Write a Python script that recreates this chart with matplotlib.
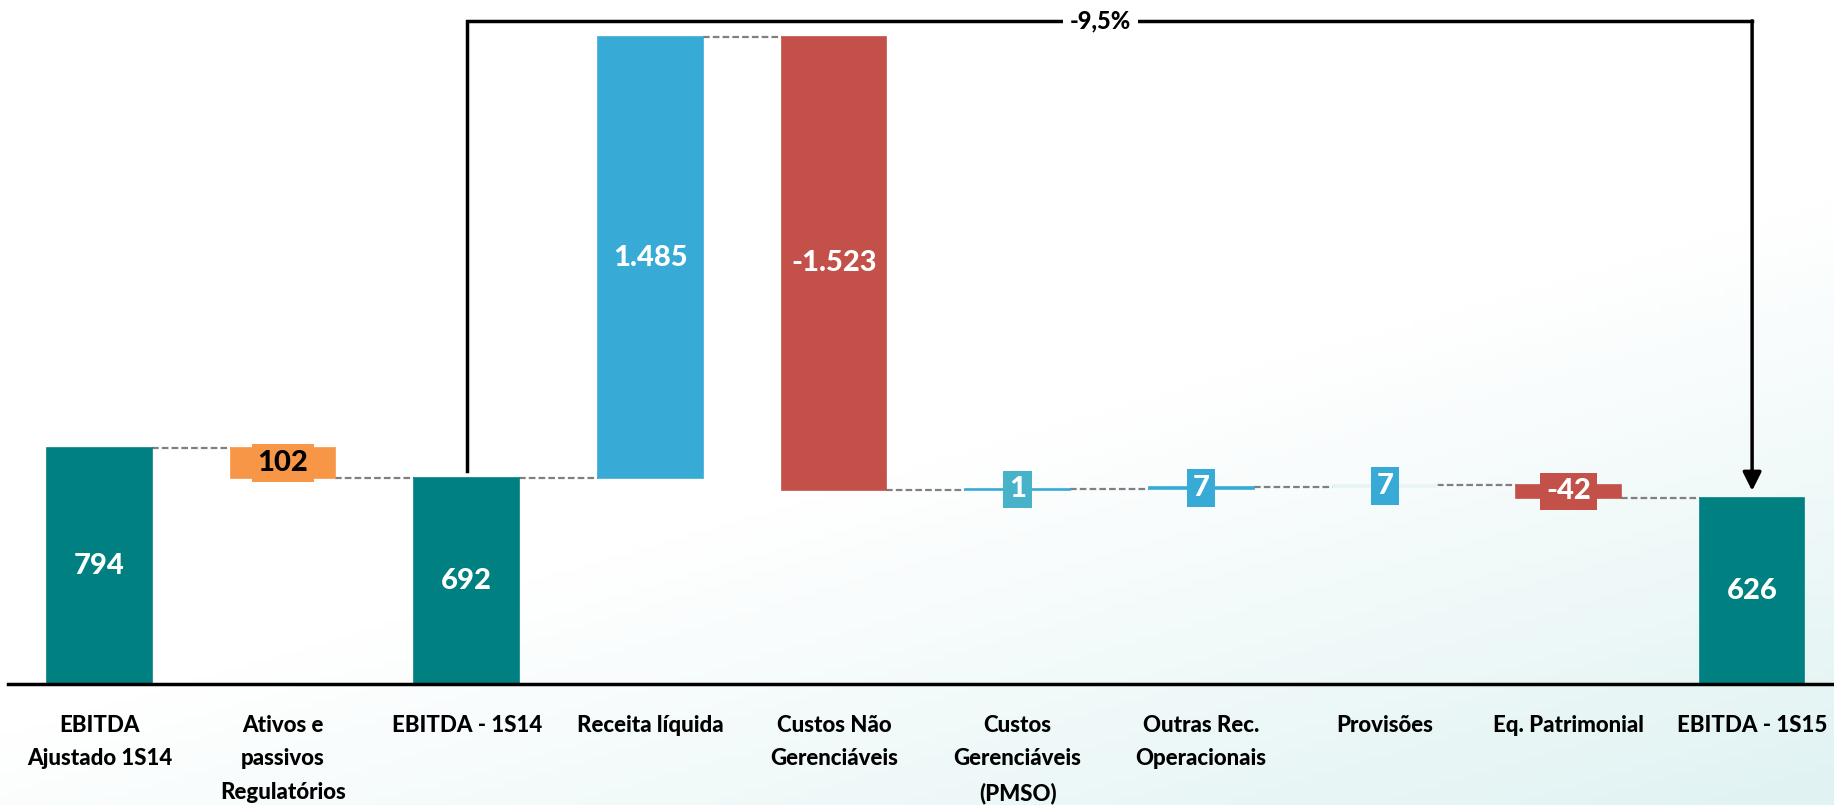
import matplotlib.pyplot as plt
import numpy as np

# Waterfall: EBITDA 1S14 -> 1S15 (R$ milhões)
CATEGORIES = [
    "EBITDA\nAjustado 1S14",
    "Ativos e\npassivos\nRegulatórios",
    "EBITDA - 1S14",
    "Receita líquida",
    "Custos Não\nGerenciáveis",
    "Custos\nGerenciáveis\n(PMSO)",
    "Outras Rec.\nOperacionais",
    "Provisões",
    "Eq. Patrimonial",
    "EBITDA - 1S15",
]
STEPS = [794, -102, 692, 1485, -1523, 1, 7, 7, -42, 626]
IS_TOTAL = [True, False, True, False, False, False, False, False, False, True]
LABELS = ["794", "102", "692", "1.485", "-1.523", "1", "7", "7", "-42", "626"]
VARIATION_TEXT = "-9,5%"

TEAL = "#008080"
BLUE = "#38AAD6"
RED = "#C4504A"
ORANGE = "#F79646"
BAR_COLORS = [TEAL, ORANGE, TEAL, BLUE, RED, BLUE, BLUE, "#E8F4F4", RED, TEAL]
BOX_COLORS = [None, ORANGE, None, None, None, "#46B3C9", BLUE, BLUE, RED, None]
LABEL_COLORS = ["white", "black", "white", "white", "white",
                "white", "white", "white", "white", "white"]
SMALL = [False, True, False, False, False, True, True, True, True, False]

plt.rcParams["font.family"] = ["Lato", "DejaVu Sans"]
WEIGHT = 900

fig = plt.figure(figsize=(18.34, 8.05), dpi=100)

# faint slide-like background gradient towards the bottom right
bg = fig.add_axes([0, 0, 1, 1], zorder=0)
gx, gy = np.meshgrid(np.linspace(0, 1, 200), np.linspace(0, 1, 100))
shade = np.clip((gx * 0.8 + gy * 1.2 - 1.1) / 0.9, 0, 1)
rgb = np.ones((100, 200, 3))
tint = np.array([0.88, 0.95, 0.95])
rgb = rgb * (1 - shade[..., None]) + tint * shade[..., None]
bg.imshow(rgb, aspect="auto", extent=[0, 1, 0, 1], origin="upper")
bg.axis("off")

ax = fig.add_axes([8 / 1834, 121 / 805, 1 - 8 / 1834, 684 / 805], zorder=1)
ax.patch.set_alpha(0)

x = np.arange(len(CATEGORIES))
bottoms, heights, levels = [], [], []
running = 0
for step, total in zip(STEPS, IS_TOTAL):
    if total:
        bottoms.append(0)
        heights.append(step)
        running = step
    else:
        start = running
        running = running + step
        bottoms.append(min(start, running))
        heights.append(abs(step))
    levels.append(running)

width = 0.57
ax.bar(x, heights, bottom=bottoms, width=width, color=BAR_COLORS,
       edgecolor=BAR_COLORS, linewidth=1.2, zorder=2)

# dashed connectors at the running level
for i in range(len(x) - 1):
    ax.plot([x[i] + width / 2, x[i + 1] - width / 2], [levels[i], levels[i]],
            color="#808080", linestyle=(0, (3, 1.4)), linewidth=1.6, zorder=1)

for i in range(len(x)):
    mid = bottoms[i] + heights[i] / 2
    if SMALL[i]:
        ax.text(x[i], mid, LABELS[i], ha="center", va="center", fontsize=21,
                fontweight=WEIGHT, color=LABEL_COLORS[i], zorder=4,
                bbox=dict(boxstyle="square,pad=0.2", fc=BOX_COLORS[i], ec="none"))
    else:
        ax.text(x[i], mid, LABELS[i], ha="center", va="center", fontsize=21,
                fontweight=WEIGHT, color=LABEL_COLORS[i], zorder=4)

# bracket with the variation between the two EBITDA bars
bracket_y = 2231
gap = 24
ax.plot([2, 2, 9], [STEPS[2] + gap, bracket_y, bracket_y], color="black",
        linewidth=2.5, solid_joinstyle="miter", zorder=3)
ax.annotate("", xy=(9, STEPS[9] + gap), xytext=(9, bracket_y),
            arrowprops=dict(arrowstyle="-|>", color="black", lw=2.5,
                            mutation_scale=28, shrinkA=0, shrinkB=0),
            zorder=3)
ax.text(5.45, bracket_y, VARIATION_TEXT, ha="center", va="center", fontsize=17,
        fontweight=WEIGHT, color="black", zorder=4,
        bbox=dict(boxstyle="square,pad=0.3", fc="white", ec="none"))

ax.set_xlim(-0.498, 9.446)
ax.set_ylim(0, 2301)
ax.set_xticks(x)
ax.set_xticklabels(CATEGORIES, fontsize=16, fontweight=WEIGHT,
                   linespacing=1.75, va="top")
ax.tick_params(axis="x", length=0, pad=22)
ax.set_yticks([])
for side in ["top", "right", "left"]:
    ax.spines[side].set_visible(False)
ax.spines["bottom"].set_linewidth(2.5)
ax.spines["bottom"].set_color("black")

fig.savefig("out.png", dpi=100)
